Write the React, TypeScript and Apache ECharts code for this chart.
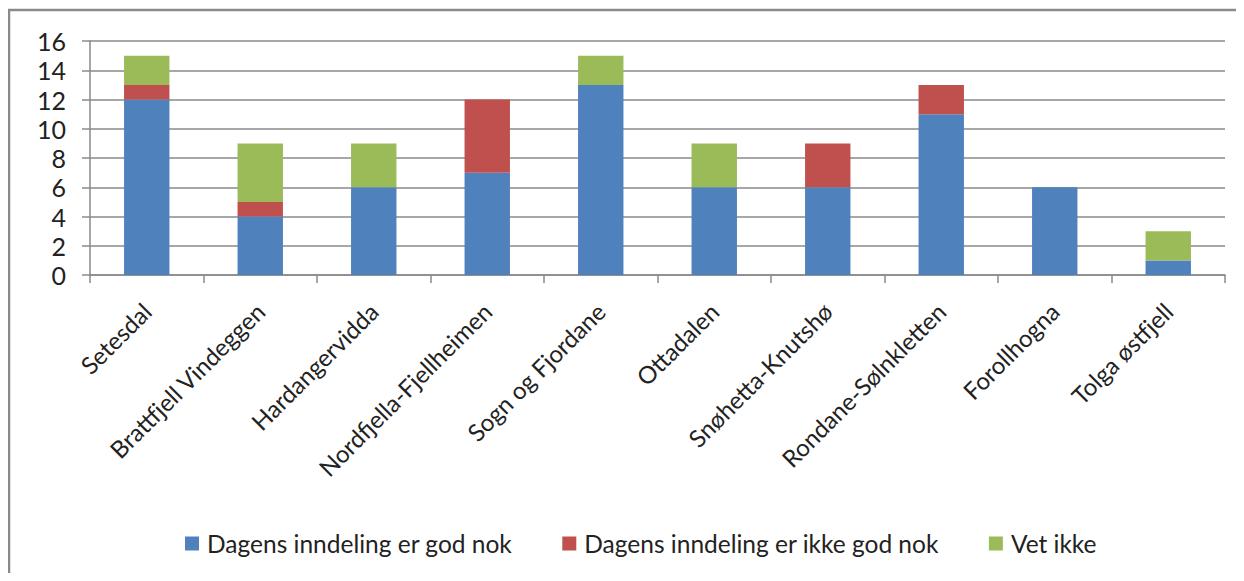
import React, { useEffect, useRef } from "react";
import * as echarts from "echarts";

const categories = [
  "Setesdal",
  "Brattfjell Vindeggen",
  "Hardangervidda",
  "Nordfjella-Fjellheimen",
  "Sogn og Fjordane",
  "Ottadalen",
  "Snøhetta-Knutshø",
  "Rondane-Sølnkletten",
  "Forollhogna",
  "Tolga østfjell",
];
const godNok = [12, 4, 6, 7, 13, 6, 6, 11, 6, 1];
const ikkeGodNok = [1, 1, 0, 5, 0, 0, 3, 2, 0, 0];
const vetIkke = [2, 4, 3, 0, 2, 3, 0, 0, 0, 2];
const seriesNames = [
  "Dagens inndeling er god nok",
  "Dagens inndeling er ikke god nok",
  "Vet ikke",
];
const colors = ["#4F81BD", "#C0504D", "#9BBB59"];

export default function App() {
  const ref = useRef<HTMLDivElement>(null);
  useEffect(() => {
    const chart = echarts.init(ref.current!, null, { renderer: "svg" });
    const font = "Lato";
    const data = [godNok, ikkeGodNok, vetIkke];
    chart.setOption({
      animation: false,
      textStyle: { fontFamily: font },
      graphic: [
        {
          type: "rect",
          shape: { x: 1, y: 2, width: 1260, height: 600 },
          style: { fill: "none", stroke: "#8a8a8a", lineWidth: 2.5 },
          silent: true,
        },
      ],
      grid: { left: 82, right: 11, top: 33, bottom: 298, containLabel: false },
      legend: {
        left: 172,
        top: 518,
        icon: "rect",
        itemWidth: 14,
        itemHeight: 14,
        itemGap: 50,
        textStyle: { fontFamily: font, fontSize: 24.5, color: "#222", padding: [0, 0, 0, 3] },
        data: seriesNames,
      },
      xAxis: {
        type: "category",
        data: categories,
        axisLine: { lineStyle: { color: "#8a8a8a", width: 1.5 } },
        axisTick: { show: true, length: 8, lineStyle: { color: "#8a8a8a", width: 1.5 } },
        axisLabel: {
          rotate: 45,
          margin: 32,
          interval: 0,
          fontFamily: font,
          fontSize: 24,
          color: "#222",
        },
      },
      yAxis: {
        type: "value",
        min: 0,
        max: 16,
        interval: 2,
        axisLine: { show: true, lineStyle: { color: "#8a8a8a", width: 1.5 } },
        axisTick: { show: true, length: 8, lineStyle: { color: "#8a8a8a", width: 1.5 } },
        splitLine: { lineStyle: { color: "#8a8a8a", width: 1.5 } },
        axisLabel: { margin: 24, fontFamily: font, fontSize: 25, color: "#222" },
      },
      series: seriesNames.map((name, i) => ({
        name,
        type: "bar",
        stack: "total",
        barWidth: "40%",
        itemStyle: { color: colors[i] },
        data: data[i],
      })),
    });
    return () => chart.dispose();
  }, []);
  return <div ref={ref} style={{ width: 1228, height: 565 }} />;
}
